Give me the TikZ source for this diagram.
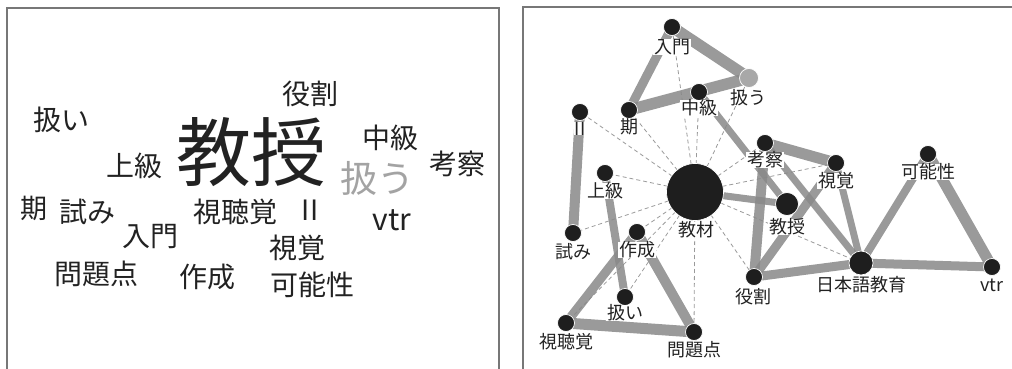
\documentclass[tikz,border=0pt]{standalone}
\usepackage{fontspec}
\setmainfont{Noto Sans CJK JP}
\pgfdeclarelayer{dashlayer}
\pgfdeclarelayer{edgelayer}
\pgfsetlayers{dashlayer,edgelayer,main}
\definecolor{txt}{HTML}{222222}
\definecolor{framec}{HTML}{777777}
\definecolor{edgec}{HTML}{888888}
\definecolor{dashc}{HTML}{9A9A9A}
\definecolor{nodec}{HTML}{1E1E1E}
\definecolor{lightn}{HTML}{A8A8A8}
\definecolor{lighttxt}{HTML}{A3A3A3}
\begin{document}
\begin{tikzpicture}[x=1pt,y=-1pt,
  word/.style={text=txt,inner sep=0pt,font=\fontsize{28}{28}\selectfont},
  dot/.style={circle,fill=nodec,draw=white,line width=0.7pt,inner sep=0pt,minimum size=17pt},
  lbl/.style={text=txt,fill=white,inner xsep=0.6pt,inner ysep=0pt,font=\fontsize{18}{18}\selectfont},
  co/.style={draw=edgec,opacity=0.85,line width=#1},
  dsh/.style={draw=dashc,line width=0.8pt,dash pattern=on 4pt off 3pt}]
\useasboundingbox (0,0) rectangle (1012,369);
\clip (0,0) rectangle (1012,369);
% frames
\draw[framec,line width=1.2pt] (7,380) -- (7,8) -- (499,8) -- (499,380);
\draw[framec,line width=1.2pt] (1020,7) -- (523,7) -- (523,380);
% ---------- word cloud ----------
\node[word] (w1) at (310,94) {役割};
\node[word] (w2) at (62,120) {扱い};
\node[word,font=\fontsize{75}{75}\selectfont] (w3) at (251,152) {教授};
\node[word] (w4) at (390,138) {中級};
\node[word] (w5) at (134,166) {上級};
\node[word,text=lighttxt,font=\fontsize{37}{37}\selectfont] (w6) at (377,178) {扱う};
\node[word] (w7) at (457,164) {考察};
\node[word,font=\fontsize{27}{27}\selectfont] (w8) at (34,208) {期};
\node[word] (w9) at (87,212) {試み};
\node[word] (w10) at (235,212) {視聴覚};
\node[word,anchor=base] (w11) at (310,220) {II};
\node[word,anchor=base,font=\fontsize{30}{30}\selectfont] (w12) at (392,230) {vtr};
\node[word] (w13) at (150,237) {入門};
\node[word] (w14) at (297,248) {視覚};
\node[word] (w15) at (96,274) {問題点};
\node[word] (w16) at (207,277) {作成};
\node[word] (w17) at (312,285) {可能性};
% ---------- network nodes ----------
\node[dot] (nyumon) at (672,27) {};
\node[dot,fill=lightn,minimum size=19pt] (atsukau) at (749,78) {};
\node[dot] (chukyu) at (699,92) {};
\node[dot] (ki) at (629,110) {};
\node[dot] (ii) at (580,112) {};
\node[dot] (kosatsu) at (765,143) {};
\node[dot] (shikaku) at (836,163) {};
\node[dot] (kanosei) at (928,154) {};
\node[dot] (jokyu) at (605,173) {};
\node[dot,minimum size=57pt] (kyozai) at (695,192) {};
\node[dot,minimum size=23pt] (kyoju) at (787,204) {};
\node[dot] (yakuwari) at (754,277) {};
\node[dot,minimum size=24pt] (nihongo) at (861,263) {};
\node[dot] (vtr) at (992,267) {};
\node[dot] (kokoromi) at (573,233) {};
\node[dot] (sakusei) at (637,232) {};
\node[dot] (atsukai) at (625,297) {};
\node[dot] (shichokaku) at (566,323) {};
\node[dot] (mondaiten) at (694,332) {};
% ---------- edges ----------
\begin{pgfonlayer}{dashlayer}
\foreach \t in {ii,ki,nyumon,chukyu,atsukau,jokyu,kokoromi,sakusei,atsukai,shichokaku,mondaiten,yakuwari,nihongo,kosatsu,shikaku}
  \draw[dsh] (kyozai.center) -- (\t.center);
\end{pgfonlayer}
\begin{pgfonlayer}{edgelayer}
\draw[co=9pt] (nyumon.center) -- (ki.center);
\draw[co=11.5pt] (nyumon.center) -- (atsukau.center);
\draw[co=11.5pt] (ki.center) -- (atsukau.center);
\draw[co=7pt] (chukyu.center) -- (kyoju.center);
\draw[co=10pt] (ii.center) -- (kokoromi.center);
\draw[co=8pt] (jokyu.center) -- (atsukai.center);
\draw[co=9pt] (sakusei.center) -- (shichokaku.center);
\draw[co=10pt] (sakusei.center) -- (mondaiten.center);
\draw[co=11pt] (shichokaku.center) -- (mondaiten.center);
\draw[co=7pt] (kyozai.center) -- (kyoju.center);
\draw[co=11pt] (kosatsu.center) -- (shikaku.center);
\draw[co=10pt] (kosatsu.center) -- (yakuwari.center);
\draw[co=7pt] (kosatsu.center) -- (nihongo.center);
\draw[co=9pt] (shikaku.center) -- (yakuwari.center);
\draw[co=7pt] (shikaku.center) -- (nihongo.center);
\draw[co=9pt] (yakuwari.center) -- (nihongo.center);
\draw[co=9pt] (nihongo.center) -- (vtr.center);
\draw[co=8pt] (kanosei.center) -- (nihongo.center);
\draw[co=11pt] (kanosei.center) -- (vtr.center);
\end{pgfonlayer}
% ---------- labels ----------
\node[lbl] (l1) at (672,47) {入門};
\node[lbl] (l2) at (748,98) {扱う};
\node[lbl] (l3) at (699,108) {中級};
\node[lbl] (l4) at (629,127) {期};
\node[lbl,anchor=base] (l5) at (580,135) {II};
\node[lbl] (l6) at (765,160) {考察};
\node[lbl] (l7) at (836,181) {視覚};
\node[lbl] (l8) at (928,172) {可能性};
\node[lbl] (l9) at (605,191) {上級};
\node[lbl] (l10) at (696,230) {教材};
\node[lbl] (l11) at (787,227) {教授};
\node[lbl] (l12) at (753,297) {役割};
\node[lbl] (l13) at (861,285) {日本語教育};
\node[lbl,anchor=base] (l14) at (992,291) {vtr};
\node[lbl] (l15) at (573,252) {試み};
\node[lbl] (l16) at (637,250) {作成};
\node[lbl] (l17) at (625,313) {扱い};
\node[lbl] (l18) at (566,342) {視聴覚};
\node[lbl] (l19) at (694,350) {問題点};
\end{tikzpicture}
\end{document}
